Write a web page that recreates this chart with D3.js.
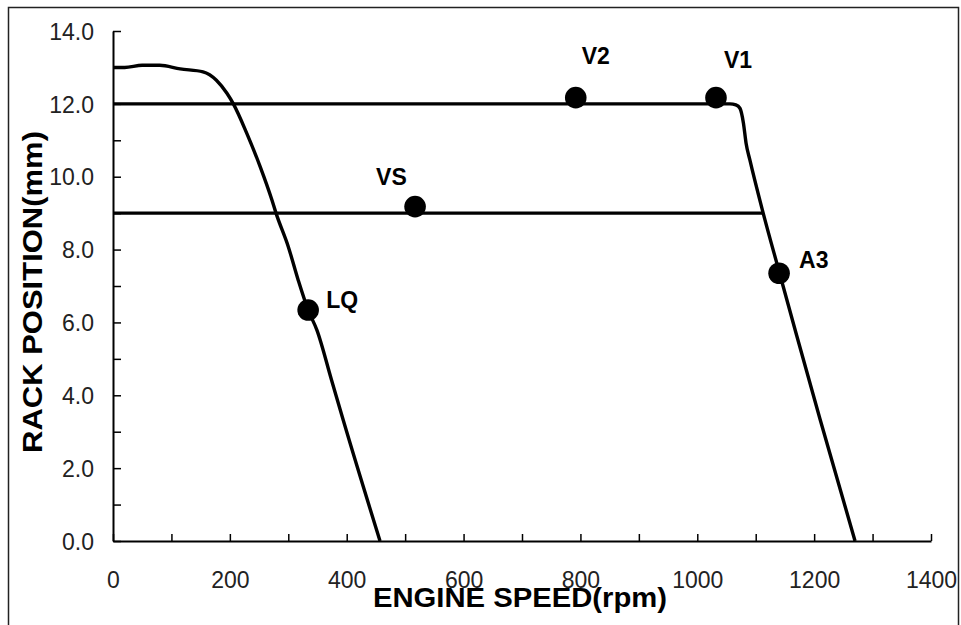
<!DOCTYPE html>
<html>
<head>
<meta charset="utf-8">
<script src="https://cdn.jsdelivr.net/npm/d3@7"></script>
<style>
  html, body { margin: 0; padding: 0; background: #fff; }
  svg { display: block; }
</style>
</head>
<body>
<svg id="chart" width="961" height="625"></svg>
<script>
// ---- data ----
const lowIdleRpm  = [0, 20, 50, 80, 115, 154, 177, 195, 206, 229, 252, 272, 279, 300, 317, 334, 349, 374, 394, 457];
const lowIdleRack = [13.0, 13.0, 13.06, 13.06, 12.96, 12.88, 12.65, 12.29, 12.0, 11.19, 10.27, 9.36, 9.0, 8.08, 7.16, 6.34, 5.79, 4.42, 3.32, 0.0];

const highIdleRpm  = [0, 1032, 1056, 1066, 1073, 1079, 1083.5, 1090, 1112, 1140, 1170, 1210, 1270];
const highIdleRack = [12.0, 12.0, 12.0, 11.97, 11.88, 11.47, 10.92, 10.46, 9.05, 7.4, 5.65, 3.35, 0.0];

const limitRpm  = [0, 1112];
const limitRack = [9.0, 9.0];

const pointNames = ["V2", "V1", "VS", "A3", "LQ"];
const pointRpm   = [792, 1032, 517, 1140, 334];
const pointRack  = [12.17, 12.17, 9.18, 7.35, 6.34];

const xTicks = [0, 100, 200, 300, 400, 500, 600, 700, 800, 900, 1000, 1100, 1200, 1300, 1400];
const yTicks = [0, 1, 2, 3, 4, 5, 6, 7, 8, 9, 10, 11, 12, 13, 14];
const xTitle = "ENGINE SPEED(rpm)";
const yTitle = "RACK POSITION(mm)";

// ---- layout ----
const svg = d3.select("#chart");
const x = d3.scaleLinear().domain([0, 1400]).range([113, 931]);
const y = d3.scaleLinear().domain([0, 14]).range([541, 31]);
const tickFont = "'Liberation Sans Narrow', 'Arial Narrow', 'Liberation Sans', Arial, sans-serif";
const boldFont = "'Liberation Sans', Arial, Helvetica, sans-serif";

// outer frame
svg.append("rect")
  .attr("x", 8.5).attr("y", 7.5).attr("width", 950).attr("height", 660)
  .attr("fill", "none").attr("stroke", "#222").attr("stroke-width", 1.5);

// y axis
const yAxis = d3.axisLeft(y).tickValues(yTicks).tickSizeInner(-8).tickSizeOuter(0)
  .tickFormat(d => d % 2 === 0 ? d3.format(".1f")(d) : "");
const gy = svg.append("g").attr("transform", `translate(${x(0)},0)`).call(yAxis);
gy.select(".domain").attr("stroke", "#000").attr("stroke-width", 2);
gy.selectAll(".tick line").attr("stroke", "#000").attr("stroke-width", 1.5);
gy.selectAll(".tick text")
  .attr("x", -19).attr("dy", "0.36em")
  .attr("font-family", tickFont).attr("font-size", 23).attr("fill", "#222");

// x axis
const xAxis = d3.axisBottom(x).tickValues(xTicks).tickSizeInner(-7).tickSizeOuter(0)
  .tickFormat(d => d % 200 === 0 ? d : "");
const gx = svg.append("g").attr("transform", `translate(0,${y(0)})`).call(xAxis);
gx.select(".domain").attr("stroke", "#000").attr("stroke-width", 2);
gx.selectAll(".tick line").attr("stroke", "#000").attr("stroke-width", 1.5);
gx.selectAll(".tick text")
  .attr("y", 47).attr("dy", 0)
  .attr("font-family", tickFont).attr("font-size", 23).attr("fill", "#222");

// lines
const line = d3.line().x(d => x(d[0])).y(d => y(d[1])).curve(d3.curveMonotoneX);
function drawSeries(xs, ys) {
  svg.append("path")
    .datum(xs.map((v, i) => [v, ys[i]]))
    .attr("d", line)
    .attr("fill", "none").attr("stroke", "#000").attr("stroke-width", 3.4)
    .attr("stroke-linejoin", "round");
}
drawSeries(limitRpm, limitRack);
drawSeries(highIdleRpm, highIdleRack);
drawSeries(lowIdleRpm, lowIdleRack);

// points
const labelOffset = { V2: [6, -34], V1: [8, -30], VS: [-39, -22], A3: [20, -5], LQ: [18, -2] };
const pts = pointNames.map((n, i) => ({ name: n, rpm: pointRpm[i], rack: pointRack[i] }));
svg.selectAll("circle.pt").data(pts).enter().append("circle")
  .attr("class", "pt")
  .attr("cx", d => x(d.rpm)).attr("cy", d => y(d.rack)).attr("r", 10.8)
  .attr("fill", "#000");
svg.selectAll("text.pt").data(pts).enter().append("text")
  .attr("class", "pt")
  .attr("x", d => x(d.rpm) + labelOffset[d.name][0])
  .attr("y", d => y(d.rack) + labelOffset[d.name][1])
  .attr("font-family", boldFont).attr("font-weight", "bold").attr("font-size", 23)
  .attr("fill", "#000")
  .text(d => d.name);

// titles
svg.append("text")
  .attr("x", 520).attr("y", 607).attr("text-anchor", "middle")
  .attr("font-family", boldFont).attr("font-weight", "bold").attr("font-size", 27)
  .attr("textLength", 294).attr("lengthAdjust", "spacingAndGlyphs")
  .attr("fill", "#000").text(xTitle);
svg.append("text")
  .attr("transform", "translate(42,292) rotate(-90)")
  .attr("text-anchor", "middle")
  .attr("font-family", boldFont).attr("font-weight", "bold").attr("font-size", 27)
  .attr("textLength", 322).attr("lengthAdjust", "spacingAndGlyphs")
  .attr("fill", "#000").text(yTitle);
</script>
</body>
</html>
